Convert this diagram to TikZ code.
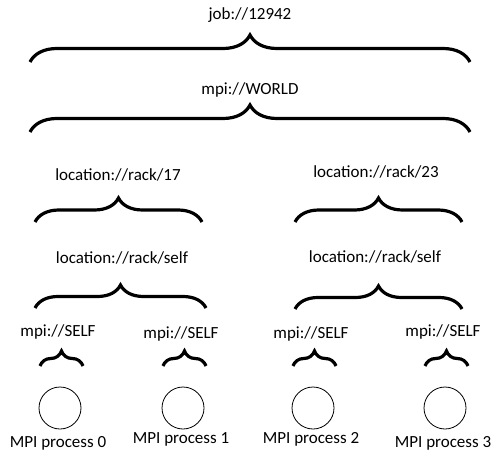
\documentclass[tikz,border=0pt]{standalone}
\usepackage{fontspec}
\setmainfont{Carlito}
\usetikzlibrary{decorations.pathreplacing}
\usetikzlibrary{positioning}

\tikzset{
  lbl/.style={font=\fontsize{17bp}{20bp}\selectfont, inner sep=0pt},
  curly/.style={decorate, decoration={brace, amplitude=#1}, line width=3.2bp},
  proc/.style={draw, circle, minimum size=42bp, inner sep=0pt, line width=0.8bp}
}

\begin{document}
\begin{tikzpicture}[x=1bp,y=-1bp]
\useasboundingbox (0,0) rectangle (496,454);
% whole job and world
\node[lbl] (job) at (250,15) {job://12942};
\draw[curly=27bp] (30,62) -- (470,62);
\node[lbl] (world) at (250,90) {mpi://WORLD};
\draw[curly=27bp] (30,132) -- (470,132);
% racks
\node[lbl] (rackA) at (118,175) {location://rack/17};
\node[lbl] (rackB) at (376,172) {location://rack/23};
\draw[curly=24bp] (35,222) -- (202,222);
\draw[curly=24bp] (295,222) -- (462,222);
\node[lbl] (selfA) at (122,258) {location://rack/self};
\node[lbl] (selfB) at (375,257) {location://rack/self};
\draw[curly=23bp] (35,308) -- (206,308);
\draw[curly=23bp] (295,309) -- (462,309);
% processes
\foreach \i/\x/\ly/\ny in {0/60/332/443, 1/183/334/439, 2/313/334/439, 3/445/332/443}{
  \node[lbl] (mself\i) at (\x-2,\ly) {mpi://SELF};
  \draw[curly=15bp] (\x-20,366) -- (\x+23,366);
  \node[proc] (p\i) at (\x,408) {};
  \node[lbl] (pname\i) at (\x-2,\ny) {MPI process \i};
}
\end{tikzpicture}
\end{document}
